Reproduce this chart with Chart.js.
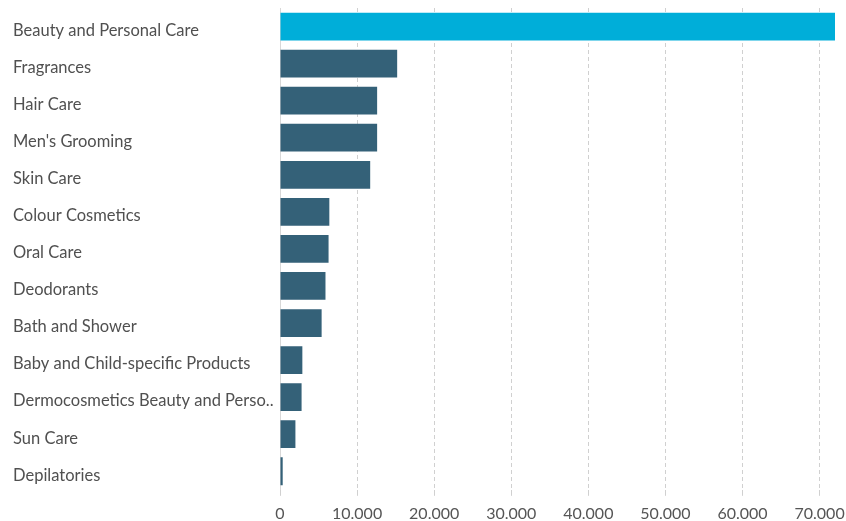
<!DOCTYPE html>
<html>
<head>
<meta charset="utf-8">
<script src="https://cdn.jsdelivr.net/npm/chart.js@4"></script>
<style>
html,body{margin:0;padding:0;background:#fff;}
#wrap{width:846px;height:521px;position:relative;}
</style>
</head>
<body>
<div id="wrap"><canvas id="c"></canvas></div>
<script>
const categories = [
  "Beauty and Personal Care",
  "Fragrances",
  "Hair Care",
  "Men's Grooming",
  "Skin Care",
  "Colour Cosmetics",
  "Oral Care",
  "Deodorants",
  "Bath and Shower",
  "Baby and Child-specific Products",
  "Dermocosmetics Beauty and Perso..",
  "Sun Care",
  "Depilatories"
];
const values = [72000, 15200, 12600, 12600, 11700, 6400, 6300, 5900, 5400, 2900, 2800, 2000, 350];
const tickValues = [0, 10000, 20000, 30000, 40000, 50000, 60000, 70000];
const highlightColor = "#00aed9";
const barColor = "#346178";

function fmt(v){ return String(v).replace(/\B(?=(\d{3})+(?!\d))/g, "."); }

new Chart(document.getElementById('c'), {
  type: 'bar',
  data: {
    labels: categories,
    datasets: [{
      data: values,
      backgroundColor: values.map((v,i) => i === 0 ? highlightColor : barColor),
      barPercentage: 0.75,
      categoryPercentage: 1.0
    }]
  },
  options: {
    indexAxis: 'y',
    responsive: true,
    maintainAspectRatio: false,
    animation: false,
    layout: { padding: { top: 8, right: 11, left: 13, bottom: -10 } },
    plugins: { legend: { display: false }, tooltip: { enabled: false } },
    scales: {
      x: {
        min: 0,
        max: Math.max(...values),
        afterBuildTicks: s => { s.ticks = tickValues.map(v => ({ value: v })); },
        afterFit: s => { s.paddingLeft = 0; s.paddingRight = 0; },
        ticks: {
          color: '#555',
          font: { family: 'Lato', size: 16 },
          padding: 8,
          callback: v => fmt(v)
        },
        grid: { color: '#d0d0d0', lineWidth: 1, tickLength: 6, drawTicks: true },
        border: { display: false, dash: [4, 3] }
      },
      y: {
        afterFit: s => { s.width = 267; s.paddingTop = 0; s.paddingBottom = 0; },
        ticks: {
          color: '#505050',
          font: { family: 'Lato', size: 16.5 },
          crossAlign: 'far',
          labelOffset: 4,
          padding: 0
        },
        grid: { display: false },
        border: { display: true, color: '#d8d8d8' }
      }
    }
  }
});
</script>
</body>
</html>
